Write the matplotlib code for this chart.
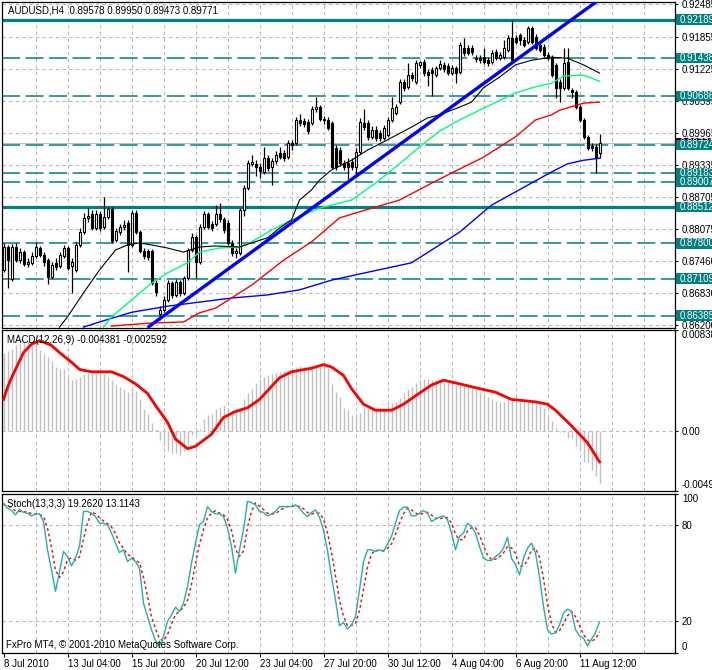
import matplotlib
matplotlib.use("Agg")
import matplotlib.pyplot as plt
from matplotlib.patches import Rectangle
import numpy as np

plt.rcParams['font.family'] = ['Liberation Sans', 'DejaVu Sans']

# ---------------- data ----------------
title_main = "AUDUSD,H4  0.89578 0.89950 0.89473 0.89771"
title_macd = "MACD(12,26,9) -0.004381 -0.002592"
title_stoch = "Stoch(13,3,3) 19.2620 13.1143"
copyright_txt = "FxPro MT4, \u00a9 2001-2010 MetaQuotes Software Corp."

opens = [.8728, .8773, .8710, .8773, .8748, .8763, .8740, .8742, .8755, .8771,
         .8757, .8748, .8714, .8742, .8736, .8755, .8771, .8736, .8728, .8777,
         .8802, .8830, .8838, .8810, .8838, .8812, .8832, .8847, .8787, .8802,
         .8812, .8820, .8777, .8840, .8802, .8765, .8765, .8765, .8702, .8642,
         .8649, .8669, .8702, .8679, .8704, .8683, .8712, .8767, .8792, .8744,
         .8812, .8838, .8818, .8818, .8838, .8828, .8820, .8781, .8761, .8761,
         .8846, .8889, .8936, .8936, .8930, .8920, .8947, .8930, .8942, .8957,
         .8957, .8949, .8977, .8977, .9022, .9020, .9018, .9016, .9043, .9047,
         .9024, .9022, .9016, .8967, .8963, .8938, .8938, .8940, .8930, .8959,
         .9016, .9016, .8989, .9002, .8996, .8987, .8993, .9022, .9036, .9057,
         .9096, .9087, .9110, .9096, .9130, .9136, .9116, .9120, .9110, .9124,
         .9130, .9128, .9114, .9124, .9116, .9163, .9163, .9163, .9143, .9143,
         .9145, .9139, .9136, .9155, .9143, .9145, .9159, .9183, .9183, .9189,
         .9179, .9175, .9202, .9185, .9169, .9165, .9149, .9143, .9130, .9096,
         .9085, .9136, .9081, .9077, .9047, .9022, .8989, .8971, .8969, .89578]
highs = [.8781, .8777, .8779, .8781, .8771, .8767, .8751, .8763, .8783, .8775,
         .8763, .8751, .8744, .8751, .8763, .8777, .8775, .8751, .8783, .8810,
         .8840, .8849, .8846, .8846, .8844, .8871, .8851, .8851, .8810, .8818,
         .8826, .8826, .8846, .8846, .8806, .8771, .8769, .8769, .8708, .8657,
         .8677, .8708, .8706, .8710, .8708, .8716, .8771, .8800, .8796, .8818,
         .8844, .8842, .8824, .8855, .8859, .8832, .8826, .8787, .8771, .8849,
         .8894, .8943, .8953, .8943, .8938, .8969, .8953, .8947, .8961, .8969,
         .8963, .8983, .8983, .9028, .9034, .9026, .9024, .9049, .9067, .9051,
         .9030, .9028, .9020, .8973, .8969, .8943, .8947, .8947, .8967, .9026,
         .9043, .9022, .9010, .9010, .9002, .9012, .9028, .9067, .9053, .9102,
         .9102, .9134, .9116, .9139, .9138, .9141, .9122, .9126, .9128, .9139,
         .9136, .9134, .9130, .9128, .9175, .9183, .9169, .9169, .9149, .9149,
         .9163, .9145, .9159, .9161, .9155, .9179, .9189, .9218, .9189, .9192,
         .9185, .9206, .9206, .9190, .9175, .9171, .9155, .9149, .9134, .9102,
         .9163, .9163, .9085, .9081, .9051, .9026, .8993, .8977, .8975, .89950]
lows = [.8724, .8693, .8706, .8744, .8742, .8736, .8734, .8738, .8751, .8753,
        .8736, .8700, .8710, .8728, .8732, .8751, .8728, .8683, .8724, .8773,
        .8798, .8822, .8806, .8806, .8804, .8808, .8828, .8781, .8783, .8796,
        .8806, .8724, .8773, .8798, .8761, .8749, .8748, .8699, .8677, .8630,
        .8646, .8665, .8673, .8675, .8677, .8679, .8708, .8763, .8712, .8740,
        .8808, .8808, .8804, .8814, .8822, .8800, .8777, .8755, .8751, .8757,
        .8834, .8885, .8932, .8912, .8908, .8916, .8922, .8894, .8936, .8945,
        .8942, .8945, .8963, .8973, .9010, .9008, .8994, .9012, .9038, .9020,
        .9014, .9002, .8926, .8924, .8932, .8924, .8906, .8924, .8914, .8955,
        .9002, .8983, .8985, .8981, .8981, .8983, .8989, .9018, .9032, .9053,
        .9079, .9083, .9098, .9092, .9124, .9108, .9089, .9069, .9106, .9120,
        .9116, .9110, .9110, .9094, .9112, .9147, .9149, .9149, .9136, .9134,
        .9132, .9128, .9132, .9139, .9139, .9141, .9155, .9136, .9171, .9169,
        .9165, .9171, .9171, .9159, .9155, .9145, .9139, .9106, .9065, .9057,
        .9081, .9081, .9065, .9043, .9018, .8985, .8963, .8961, .8918, .89473]
closes = [.8773, .8748, .8773, .8748, .8763, .8740, .8744, .8755, .8773, .8757,
          .8744, .8714, .8738, .8734, .8757, .8771, .8732, .8744, .8777, .8802,
          .8830, .8834, .8810, .8838, .8810, .8832, .8847, .8785, .8804, .8812,
          .8816, .8777, .8840, .8802, .8765, .8755, .8753, .8702, .8685, .8649,
          .8669, .8702, .8679, .8704, .8683, .8712, .8767, .8792, .8744, .8812,
          .8838, .8812, .8810, .8838, .8828, .8806, .8781, .8761, .8765, .8846,
          .8889, .8938, .8940, .8930, .8922, .8947, .8928, .8942, .8953, .8949,
          .8947, .8977, .8973, .9022, .9016, .9014, .9000, .9043, .9047, .9024,
          .9022, .9006, .8930, .8930, .8938, .8930, .8930, .8930, .8959, .9018,
          .9008, .8989, .9002, .8987, .8987, .9006, .9022, .9045, .9047, .9096,
          .9085, .9110, .9104, .9134, .9136, .9114, .9110, .9114, .9124, .9132,
          .9122, .9114, .9124, .9114, .9169, .9153, .9153, .9155, .9141, .9139,
          .9136, .9134, .9153, .9143, .9149, .9163, .9183, .9139, .9175, .9179,
          .9169, .9202, .9175, .9163, .9159, .9149, .9143, .9110, .9085, .9085,
          .9134, .9085, .9077, .9047, .9022, .8989, .8967, .8967, .8947, .89771]

# moving averages (bar index, price)
ma_black_i = [14, 16, 20, 24, 28, 31, 34, 37, 41, 45, 49, 53, 59, 62, 66, 69, 72, 74, 77, 79,
              82, 87, 91, 96, 102, 106, 109, 114, 117, 120, 124, 128, 132, 137, 141, 145, 149]
ma_black_p = [.8616, .8636, .8683, .8728, .8767, .8777, .8781, .8777, .8771, .8763, .8773, .8775,
              .8773, .8781, .8791, .8810, .8826, .8865, .8885, .8904, .8924, .8943, .8963, .8983,
              .9008, .9026, .9032, .9047, .9057, .9085, .9106, .9130, .9139, .9145, .9143, .9130, .9114]
ma_green_i = [25, 27, 32, 37, 41, 46, 49, 54, 59, 62, 67, 72, 79, 87, 93, 99, 104, 109, 114,
              120, 128, 133, 137, 140, 145, 149]
ma_green_p = [.8616, .8636, .8669, .8702, .8722, .8742, .8763, .8771, .8773, .8783, .8806, .8826,
              .8849, .8865, .8898, .8936, .8969, .9000, .9022, .9045, .9075, .9087, .9094, .9108,
              .9110, .9098]
ma_red_i = [27, 37, 45, 49, 53, 62, 70, 77, 84, 89, 99, 107, 112, 120, 128, 133, 137, 139, 145, 149]
ma_red_p = [.8618, .8624, .8626, .8644, .8653, .8698, .8747, .8783, .8830, .8842, .8865, .8898,
            .8918, .8949, .8989, .9022, .9032, .9041, .9055, .9057]
ma_blue_i = [20, 24, 32, 41, 49, 57, 66, 74, 82, 89, 102, 109, 114, 122, 131, 137, 141, 145, 149]
ma_blue_p = [.8616, .8626, .8645, .8657, .8665, .8673, .8679, .8689, .8708, .8720, .8742, .8777,
             .8802, .8855, .8894, .8920, .8936, .8943, .8947]

trend_i = [36.0, 150.0]
trend_p = [0.8615, 0.9264]

levels = [0.92189, 0.91438, 0.90686, 0.89724, 0.89183, 0.89007, 0.88512, 0.87800, 0.87109, 0.86385]
levels_solid = [True, False, False, False, False, False, True, False, False, False]
current_price = 0.89771

price_ticks = [0.92485, 0.91855, 0.91225, 0.90595, 0.89965, 0.89335, 0.88705,
               0.88075, 0.87460, 0.86830, 0.86200]

macd_hist = [.0065, .0066, .0068, .0071, .0073, .0074, .0075, .0075, .0074, .0067,
             .0064, .0061, .0058, .0053, .0051, .0051, .0045, .0042, .0043, .0045,
             .0047, .0048, .0049, .0049, .0048, .0047, .0045, .0042, .0038, .0036,
             .0035, .0032, .0036, .0033, .0026, .0018, .0014, .0006, .0001, -.0008,
             -.0013, -.0017, -.0019, -.0019, -.0020, -.0017, -.0011, -.0004, -.0003, .0001,
             .0010, .0013, .0014, .0018, .0020, .0021, .0019, .0017, .0017, .0019,
             .0026, .0031, .0035, .0040, .0043, .0045, .0046, .0047, .0048, .0049,
             .0050, .0050, .0051, .0053, .0054, .0053, .0053, .0054, .0055, .0055,
             .0055, .0052, .0039, .0032, .0028, .0019, .0017, .0013, .0014, .0015,
             .0019, .0019, .0019, .0019, .0019, .0019, .0022, .0023, .0024, .0027,
             .0031, .0035, .0036, .0040, .0042, .0043, .0043, .0042, .0042, .0042,
             .0040, .0040, .0040, .0038, .0038, .0038, .0038, .0036, .0035, .0032,
             .0031, .0028, .0026, .0025, .0024, .0024, .0026, .0026, .0024, .0024,
             .0024, .0024, .0024, .0024, .0022, .0019, .0013, .0008, .0002, -.0001,
             -.0001, -.0006, -.0006, -.0013, -.0015, -.0026, -.0026, -.0033, -.0038, -.004381]
macd_sig_i = [0, 1, 2, 5, 7, 9, 12, 14, 17, 19, 22, 27, 30, 33, 36, 38, 41, 43, 46, 48,
              52, 55, 58, 61, 64, 69, 72, 77, 80, 82, 85, 87, 90, 93, 97, 100, 103, 107, 110, 114,
              119, 123, 127, 133, 136, 138, 142, 146, 149]
macd_sig_v = [.0026, .0036, .0044, .0065, .0072, .0075, .0071, .0065, .0057, .0051,
              .0049, .0049, .0045, .0039, .0031, .0021, .0007, -.0007, -.0015, -.0013,
              -.0003, .0011, .0016, .0019, .0026, .0044, .0049, .0052, .0055, .0053,
              .0046, .0035, .0022, .0017, .0017, .0022, .0029, .0038, .0042, .0039,
              .0035, .0032, .0026, .0024, .0022, .0017, .0004, -.0010, -.002592]
macd_max, macd_min = 0.00838, -0.00498

stoch_k = [93.9, 90.8, 89.3, 86.6, 90.1, 88.1, 87.6, 85.9, 87.2, 87.2,
           82.4, 64.6, 52.0, 38.4, 50.9, 63.5, 60.4, 54.5, 59.3, 66.7,
           88.7, 88.7, 87.6, 85.5, 81.3, 81.3, 80.3, 75.1, 68.8, 62.9,
           64.6, 57.2, 59.3, 57.2, 53.0, 31.0, 22.6, 14.3, 7.5, 4.2,
           10.1, 19.5, 23.7, 28.5, 25.8, 31.0, 41.5, 56.2, 68.8, 80.3,
           82.4, 91.8, 88.7, 87.2, 87.2, 85.5, 78.2, 66.7, 49.9, 64.6,
           77.1, 95.0, 94.3, 92.9, 88.7, 88.1, 85.9, 87.2, 88.7, 91.8,
           91.8, 91.8, 91.8, 92.9, 90.8, 87.6, 85.5, 88.1, 89.7, 85.0,
           77.0, 64.0, 47.8, 33.1, 16.8, 18.9, 14.7, 17.4, 22.6, 39.4,
           57.2, 64.6, 64.6, 63.5, 64.6, 63.5, 68.3, 73.0, 81.3, 89.3,
           91.4, 91.4, 86.0, 86.0, 87.6, 89.3, 87.6, 82.4, 83.9, 85.1,
           86.0, 83.4, 75.1, 64.6, 73.0, 75.1, 81.3, 79.2, 75.1, 66.7,
           59.3, 57.9, 57.9, 60.4, 62.1, 65.6, 72.5, 59.3, 55.1, 48.8,
           59.3, 65.6, 68.8, 62.5, 47.8, 28.9, 14.3, 11.7, 12.2, 17.4,
           24.7, 27.3, 25.8, 14.3, 10.5, 9.0, 4.2, 8.4, 12.6, 19.262]
stoch_d = [93.0, 92.0, 91.3, 88.9, 88.7, 88.3, 88.6, 87.2, 86.9, 86.8,
           85.6, 78.1, 66.3, 51.7, 47.1, 50.9, 58.3, 59.5, 58.1, 60.2,
           71.6, 81.4, 88.3, 87.3, 84.8, 82.7, 81.0, 78.9, 74.7, 68.9,
           65.4, 61.6, 60.4, 57.9, 56.5, 47.1, 35.5, 22.6, 14.8, 8.7,
           7.3, 11.3, 17.8, 23.9, 26.0, 28.4, 32.8, 42.9, 55.5, 68.4,
           77.2, 84.8, 87.6, 89.2, 87.7, 86.6, 83.6, 76.8, 64.9, 60.4,
           63.9, 78.9, 88.8, 94.1, 92.0, 89.9, 87.6, 87.1, 87.3, 89.2,
           90.8, 91.8, 91.8, 92.2, 91.8, 90.4, 88.0, 87.1, 87.8, 87.6,
           83.9, 75.3, 62.9, 48.3, 32.6, 22.9, 16.8, 17.0, 18.2, 26.5,
           39.7, 53.7, 62.1, 64.2, 64.2, 63.9, 65.5, 68.3, 74.2, 81.2,
           87.3, 90.7, 89.6, 87.8, 86.5, 87.6, 88.2, 86.4, 84.6, 83.8,
           85.0, 84.8, 81.5, 74.4, 70.9, 70.9, 76.5, 78.5, 78.5, 73.7,
           67.0, 61.3, 58.4, 58.7, 60.1, 62.7, 66.7, 65.8, 62.3, 54.4,
           54.4, 57.9, 64.6, 65.6, 59.7, 46.4, 30.3, 18.3, 12.7, 13.8,
           18.1, 23.1, 25.9, 22.5, 16.9, 11.3, 7.9, 7.2, 8.4, 13.1143]
stoch_levels = [80, 20]

time_tick_pos = [0, 16, 32, 48, 64, 80, 96, 112, 128, 144]
time_tick_lbl = ["8 Jul 2010", "13 Jul 04:00", "15 Jul 20:00", "20 Jul 12:00",
                 "23 Jul 04:00", "27 Jul 20:00", "30 Jul 12:00", "4 Aug 04:00",
                 "6 Aug 20:00", "11 Aug 12:00"]

# ---------------- layout ----------------
W, H = 712, 670
fig = plt.figure(figsize=(W / 100, H / 100), dpi=100, facecolor='white')


def panel(x0, y0, x1, y1):
    return fig.add_axes([x0 / W, 1 - y1 / H, (x1 - x0) / W, (y1 - y0) / H])


X0, X1 = 2, 675
ax = panel(X0, 1.5, X1, 327.5)
axm = panel(X0, 330, X1, 490.5)
axs = panel(X0, 493.5, X1, 652.5)

XL = ((X0 - 3.5) / 4.0, (X1 - 3.5) / 4.0)
GRID = '#b8b8b8'
TEAL = '#008080'
FS = 7

for a in (ax, axm, axs):
    a.set_xlim(*XL)
    a.set_facecolor('white')
    for s in a.spines.values():
        s.set_color('black')
        s.set_linewidth(0.9)
    for gx in range(8, 168, 8):
        a.axvline(gx, color=GRID, lw=0.8, ls=(0, (3, 3)), zorder=0.5)
    a.yaxis.tick_right()
    a.tick_params(axis='y', direction='out', length=2, width=0.8, pad=3,
                  labelsize=FS, colors='black', left=False, labelleft=False)
    a.tick_params(axis='x', bottom=False, labelbottom=False)

# ---------------- main price panel ----------------
ax.set_ylim(0.86152, 0.92542)
ax.set_yticks(price_ticks)
ax.set_yticklabels([f"{t:.5f}" for t in price_ticks])
for t in price_ticks:
    ax.axhline(t, color=GRID, lw=0.8, ls=(0, (3, 3)), zorder=0.5)

for lv, solid in zip(levels, levels_solid):
    if solid:
        ax.axhline(lv, color=TEAL, lw=2.3, zorder=1.5)
    else:
        ax.axhline(lv, color=TEAL, lw=1.1, ls=(0, (11.8, 3.6)), zorder=1.5)
ax.axhline(current_price, color='#c0c0c0', lw=0.9, zorder=1.4)

o = np.array(opens); h = np.array(highs); l = np.array(lows); c = np.array(closes)
xs = np.arange(len(o))
up = c >= o
ax.vlines(xs, l, h, color='black', lw=0.9, zorder=2)
body_lo = np.minimum(o, c)
body_h = np.maximum(np.abs(c - o), 0.00008)
ax.bar(xs[up], body_h[up], bottom=body_lo[up], width=0.5, facecolor='white',
       edgecolor='black', linewidth=0.8, zorder=3)
ax.bar(xs[~up], body_h[~up], bottom=body_lo[~up], width=0.5, facecolor='black',
       edgecolor='black', linewidth=0.8, zorder=3)

ax.plot(ma_blue_i, ma_blue_p, color='#0000ff', lw=1.0, zorder=4)
ax.plot(ma_red_i, ma_red_p, color='#ff0000', lw=1.0, zorder=4)
ax.plot(ma_green_i, ma_green_p, color='#00ff7f', lw=1.0, zorder=4)
ax.plot(ma_black_i, ma_black_p, color='black', lw=0.8, zorder=4)
ax.plot(trend_i, trend_p, color='#0000ff', lw=2.4, zorder=5, solid_capstyle='butt')

# price-axis value boxes (drawn over the axis labels)
BOX_X, BOX_W, BOX_H, TXT_X = 676, 40, 10.4, 680


def value_box(value, face, z):
    yd = ax.transData.transform((0, value))[1]
    fig.add_artist(Rectangle((BOX_X, yd - BOX_H / 2), BOX_W, BOX_H, transform=None,
                             facecolor=face, edgecolor='none', zorder=z))
    fig.text(TXT_X / W, yd / H, f"{value:.5f}", fontsize=FS, color='white',
             ha='left', va='center', zorder=z + 0.5)


value_box(current_price, 'black', 5)
for lv in levels:
    value_box(lv, TEAL, 6)

fig.text(8 / W, 1 - 10.5 / H, title_main, fontsize=FS, va='center', ha='left')

# ---------------- MACD panel ----------------
axm.set_ylim(macd_min, macd_max)
axm.axhline(0, color=GRID, lw=0.8, ls=(0, (3, 3)), zorder=0.5)
axm.vlines(xs, 0, macd_hist, color='#c0c0c0', lw=1.0, zorder=2)
axm.plot(macd_sig_i, macd_sig_v, color='#ff0000', lw=2.0, zorder=3,
         solid_joinstyle='round')
axm.set_yticks([macd_max, 0.0, macd_min])
axm.set_yticklabels(["0.00838", "0.00", "-0.00498"])
lbls = axm.get_yticklabels()
lbls[0].set_va('top')
lbls[2].set_va('bottom')
fig.text(7 / W, 1 - 340 / H, title_macd, fontsize=FS, va='center', ha='left')

# ---------------- Stochastic panel ----------------
axs.set_ylim(0, 100)
for lv in stoch_levels:
    axs.axhline(lv, color=GRID, lw=0.8, ls=(0, (3, 3)), zorder=0.5)
axs.plot(xs, stoch_d, color='#ff0000', lw=1.0, ls=(0, (2, 2)), zorder=3)
axs.plot(xs, stoch_k, color='#20b2aa', lw=1.0, zorder=4)
axs.set_yticks([100, 80, 20, 0])
axs.set_yticklabels(["100", "80", "20", "0"])
sl = axs.get_yticklabels()
sl[0].set_va('top')
sl[3].set_va('bottom')
axs.set_xticks(time_tick_pos)
axs.set_xticklabels(time_tick_lbl)
axs.tick_params(axis='x', bottom=True, labelbottom=True, direction='out', length=3,
                width=0.8, pad=2, labelsize=FS, colors='black')
for t in axs.get_xticklabels():
    t.set_ha('left')
fig.text(7 / W, 1 - 504 / H, title_stoch, fontsize=FS, va='center', ha='left')
fig.text(6 / W, 1 - 645 / H, copyright_txt, fontsize=FS, va='center', ha='left')

fig.savefig("out.png", dpi=100, facecolor='white')
